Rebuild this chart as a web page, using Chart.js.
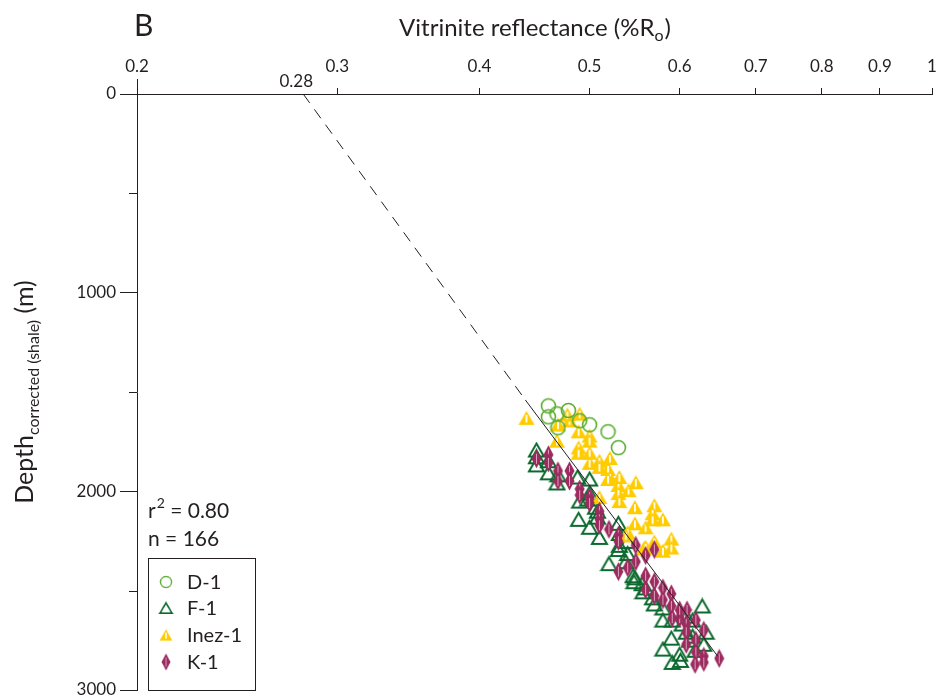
<!DOCTYPE html>
<html>
<head>
<meta charset="utf-8">
<script src="https://cdn.jsdelivr.net/npm/chart.js@4.4.1/dist/chart.umd.min.js"></script>
<style>
  html, body { margin: 0; padding: 0; background: #fff; }
  #wrap { width: 939px; height: 698px; }
</style>
</head>
<body>
<div id="wrap"><canvas id="roChart" width="939" height="698"></canvas></div>
<script>
// Axis ticks
const xTicks = [0.2, 0.3, 0.4, 0.5, 0.6, 0.7, 0.8, 0.9, 1];
const yTicks = [0, 1000, 2000, 3000];
const yMinorTicks = [500, 1500, 2500];

// D-1 (circles)
const d1Ro    = [0.46, 0.46, 0.468, 0.479, 0.49, 0.50, 0.469, 0.519, 0.53];
const d1Depth = [1570, 1625, 1610, 1593, 1645, 1665, 1680, 1700, 1780];

// F-1 (open triangles)
const f1Ro = [0.449, 0.449, 0.449, 0.46, 0.46, 0.468, 0.469, 0.488, 0.50, 0.49,
  0.489, 0.50, 0.51, 0.508, 0.508, 0.53, 0.531, 0.53, 0.54, 0.54,
  0.538, 0.52, 0.546, 0.547, 0.556, 0.557, 0.568, 0.57, 0.58, 0.591,
  0.603, 0.608, 0.616, 0.628, 0.633, 0.63, 0.612, 0.59, 0.58, 0.60,
  0.591, 0.601, 0.619, 0.608, 0.50, 0.498, 0.506, 0.548, 0.56, 0.531,
  0.58, 0.616];
const f1Depth = [1792, 1826, 1867, 1846, 1907, 1958, 1917, 1928, 1938, 2049,
  2141, 2181, 2232, 2100, 2130, 2161, 2212, 2293, 2252, 2313,
  2354, 2364, 2425, 2455, 2465, 2506, 2536, 2567, 2587, 2648,
  2668, 2709, 2648, 2577, 2709, 2770, 2749, 2739, 2794, 2820,
  2861, 2851, 2800, 2628, 2009, 2039, 2080, 2435, 2486, 2272,
  2648, 2729];

// Inez-1 (yellow triangles)
const inezRo = [0.44, 0.469, 0.48, 0.49, 0.489, 0.50, 0.468, 0.489, 0.489, 0.50,
  0.50, 0.51, 0.521, 0.519, 0.521, 0.53, 0.53, 0.531, 0.541, 0.549,
  0.51, 0.548, 0.57, 0.568, 0.58, 0.548, 0.56, 0.54, 0.57, 0.59,
  0.59, 0.58, 0.558, 0.51, 0.519, 0.478, 0.50, 0.568, 0.538, 0.531,
  0.56];
const inezDepth = [1630, 1664, 1643, 1609, 1698, 1719, 1745, 1779, 1806, 1806,
  1857, 1846, 1832, 1887, 1928, 1968, 2009, 2049, 1994, 1954,
  2029, 2080, 2070, 2110, 2141, 2161, 2181, 2206, 2252, 2238,
  2283, 2299, 2287, 1877, 1938, 1613, 1745, 2141, 2222, 1928,
  2279];

// K-1 (diamonds)
const k1Ro = [0.449, 0.46, 0.46, 0.469, 0.469, 0.48, 0.48, 0.49, 0.49, 0.50,
  0.50, 0.51, 0.51, 0.51, 0.52, 0.53, 0.53, 0.549, 0.549, 0.57,
  0.56, 0.54, 0.53, 0.56, 0.57, 0.56, 0.58, 0.57, 0.59, 0.58,
  0.59, 0.60, 0.609, 0.608, 0.62, 0.608, 0.63, 0.62, 0.608, 0.62,
  0.63, 0.619, 0.63, 0.65, 0.591, 0.60];
const k1Depth = [1836, 1816, 1857, 1897, 1948, 1897, 1948, 1988, 2019, 2029,
  2059, 2100, 2141, 2171, 2191, 2222, 2252, 2272, 2354, 2293,
  2323, 2384, 2404, 2425, 2455, 2496, 2486, 2526, 2516, 2546,
  2577, 2638, 2597, 2668, 2648, 2709, 2699, 2749, 2770, 2810,
  2830, 2871, 2861, 2841, 2638, 2597];

// Regression trend: dashed extrapolation to surface, solid through data
const trendDashRo = [0.28, 0.439];
const trendDashDepth = [0, 1540];
const trendSolidRo = [0.439, 0.648];
const trendSolidDepth = [1540, 2830];
const surfaceRo = 0.28;

const FONT = 'Lato, "Open Sans", sans-serif';
const INK = '#231f20';

function zip(xs, ys) {
    return xs.map((x, i) => ({ x: x, y: ys[i] }));
}

/**
 * Marker images
 */
function makeIcon(w, h, draw) {
    const c = document.createElement('canvas');
    c.width = w;
    c.height = h;
    draw(c.getContext('2d'), w, h);
    return c;
}

const inezIcon = makeIcon(18, 16, function(g, w, h) {
    g.beginPath();
    g.moveTo(w / 2, 1);
    g.lineTo(w - 1, h - 1);
    g.lineTo(1, h - 1);
    g.closePath();
    g.fillStyle = '#ffcc00';
    g.fill();
    g.strokeStyle = '#fff';
    g.lineWidth = 1.8;
    g.beginPath();
    g.moveTo(w / 2, 5);
    g.lineTo(w / 2, h - 3.5);
    g.stroke();
});

const k1Icon = makeIcon(11, 20, function(g, w, h) {
    g.beginPath();
    g.moveTo(w / 2, 0.5);
    g.lineTo(w - 0.5, h / 2);
    g.lineTo(w / 2, h - 0.5);
    g.lineTo(0.5, h / 2);
    g.closePath();
    g.fillStyle = '#9c2b5f';
    g.fill();
    g.strokeStyle = '#d9a3bd';
    g.lineWidth = 1;
    g.beginPath();
    g.moveTo(w / 2, 5);
    g.lineTo(w / 2, h - 5);
    g.stroke();
});

const f1Icon = makeIcon(19, 17, function(g, w, h) {
    g.beginPath();
    g.moveTo(w / 2, 2);
    g.lineTo(w - 2, h - 2);
    g.lineTo(2, h - 2);
    g.closePath();
    g.strokeStyle = '#0b6a2e';
    g.lineWidth = 2;
    g.stroke();
});

const d1Icon = makeIcon(17, 17, function(g, w, h) {
    g.beginPath();
    g.arc(w / 2, h / 2, 7, 0, Math.PI * 2);
    g.strokeStyle = '#5aad2f';
    g.lineWidth = 1.6;
    g.stroke();
});

/**
 * Texts, legend box and extra tick marks
 */
const decorPlugin = {
    id: 'decor',
    afterDraw(chart) {
        const g = chart.ctx;
        const xs = chart.scales.x;
        const ys = chart.scales.y;
        const area = chart.chartArea;
        g.save();
        g.strokeStyle = INK;
        g.fillStyle = INK;
        g.lineWidth = 1;

        // minor depth ticks
        yMinorTicks.forEach(v => {
            const py = Math.round(ys.getPixelForValue(v)) + 0.5;
            g.beginPath();
            g.moveTo(area.left - 8, py);
            g.lineTo(area.left, py);
            g.stroke();
        });

        // y axis stub above the top axis
        g.beginPath();
        g.moveTo(area.left + 0.5, area.top - 15);
        g.lineTo(area.left + 0.5, area.top);
        g.stroke();

        // panel letter
        g.textBaseline = 'alphabetic';
        g.textAlign = 'left';
        g.font = '30px ' + FONT;
        g.fillText('B', 134, 36);

        // axis title with subscript
        const tMain = 'Vitrinite reflectance (%R';
        g.font = '24px ' + FONT;
        const w1 = g.measureText(tMain).width;
        g.font = '16px ' + FONT;
        const w2 = g.measureText('o').width;
        g.font = '24px ' + FONT;
        const w3 = g.measureText(')').width;
        let tx = (area.left + area.right) / 2 - (w1 + w2 + w3) / 2;
        g.fillText(tMain, tx, 36);
        g.font = '16px ' + FONT;
        g.fillText('o', tx + w1, 41);
        g.font = '24px ' + FONT;
        g.fillText(')', tx + w1 + w2 + 1, 36);

        // surface intercept label
        g.font = '17px ' + FONT;
        g.textAlign = 'center';
        g.fillText(String(surfaceRo), xs.getPixelForValue(surfaceRo) - 7, 87);

        // y title (rotated) with subscript
        g.save();
        g.translate(33, (area.top + area.bottom) / 2);
        g.rotate(-Math.PI / 2);
        g.textAlign = 'left';
        const p1 = 'Depth', p2 = 'corrected (shale)', p3 = ' (m)';
        g.font = '25px ' + FONT;
        const a1 = g.measureText(p1).width;
        const a3 = g.measureText(p3).width;
        g.font = '16px ' + FONT;
        const a2 = g.measureText(p2).width;
        let sx = -(a1 + a2 + a3) / 2;
        g.font = '25px ' + FONT;
        g.fillText(p1, sx, 0);
        g.font = '16px ' + FONT;
        g.fillText(p2, sx + a1, 6);
        g.font = '25px ' + FONT;
        g.fillText(p3, sx + a1 + a2, 0);
        g.restore();

        // statistics
        g.textAlign = 'left';
        g.font = '21px ' + FONT;
        g.fillText('r', 148, 518);
        const rw = g.measureText('r').width;
        g.font = '14px ' + FONT;
        g.fillText('2', 148 + rw + 1, 508);
        const sw = g.measureText('2').width;
        g.font = '21px ' + FONT;
        g.fillText(' = 0.80', 148 + rw + sw + 1, 518);
        g.fillText('n = 166', 148, 546);

        // legend
        g.lineWidth = 1;
        g.strokeRect(148.5, 558.5, 107, 132);
        const icons = [d1Icon, f1Icon, inezIcon, k1Icon];
        const rows = [582, 608, 635, 662];
        g.textBaseline = 'middle';
        chart.data.datasets.filter(d => d.legendIndex !== undefined)
            .sort((a, b) => a.legendIndex - b.legendIndex)
            .forEach((d, i) => {
                const ic = icons[i];
                const scale = i === 3 ? 0.9 : 0.8;
                const iw = ic.width * scale, ih = ic.height * scale;
                g.drawImage(ic, 166 - iw / 2, rows[i] - ih / 2, iw, ih);
                g.font = '20px ' + FONT;
                g.fillText(d.label, 187, rows[i] + 1);
            });
        g.restore();
    }
};

function initChart() {
    const ctx = document.getElementById('roChart');

    new Chart(ctx, {
        type: 'scatter',
        data: {
            datasets: [
                {
                    label: 'trend-dash',
                    data: zip(trendDashRo, trendDashDepth),
                    showLine: true,
                    borderColor: INK,
                    borderWidth: 1,
                    borderDash: [11, 8],
                    pointRadius: 0,
                    order: 0
                },
                {
                    label: 'trend',
                    data: zip(trendSolidRo, trendSolidDepth),
                    showLine: true,
                    borderColor: INK,
                    borderWidth: 1,
                    pointRadius: 0,
                    order: 0
                },
                {
                    label: 'D-1',
                    legendIndex: 0,
                    data: zip(d1Ro, d1Depth),
                    pointStyle: d1Icon,
                    order: 1
                },
                {
                    label: 'K-1',
                    legendIndex: 3,
                    data: zip(k1Ro, k1Depth),
                    pointStyle: k1Icon,
                    order: 2
                },
                {
                    label: 'Inez-1',
                    legendIndex: 2,
                    data: zip(inezRo, inezDepth),
                    pointStyle: inezIcon,
                    order: 3
                },
                {
                    label: 'F-1',
                    legendIndex: 1,
                    data: zip(f1Ro, f1Depth),
                    pointStyle: f1Icon,
                    order: 4
                }
            ]
        },
        options: {
            responsive: false,
            animation: false,
            layout: {
                padding: { top: 0, left: 0, right: 7, bottom: 8 }
            },
            plugins: {
                legend: { display: false },
                tooltip: { enabled: false }
            },
            scales: {
                x: {
                    type: 'logarithmic',
                    position: 'top',
                    min: 0.2,
                    max: 1,
                    afterBuildTicks: function(scale) {
                        scale.ticks = xTicks.map(v => ({ value: v }));
                    },
                    afterFit: function(scale) {
                        scale.height = 94;
                        scale.paddingLeft = 0;
                        scale.paddingRight = 0;
                    },
                    ticks: {
                        autoSkip: false,
                        maxRotation: 0,
                        padding: 11,
                        color: INK,
                        font: { size: 17, family: FONT },
                        callback: function(value) {
                            return String(value);
                        }
                    },
                    grid: {
                        drawOnChartArea: false,
                        tickLength: 6,
                        color: INK
                    },
                    border: { color: INK, width: 1 }
                },
                y: {
                    type: 'linear',
                    reverse: true,
                    min: 0,
                    max: 3000,
                    afterBuildTicks: function(scale) {
                        scale.ticks = yTicks.map(v => ({ value: v }));
                    },
                    afterFit: function(scale) {
                        scale.width = 137;
                        scale.paddingTop = 0;
                        scale.paddingBottom = 0;
                    },
                    ticks: {
                        padding: 4,
                        color: INK,
                        font: { size: 17, family: FONT },
                        callback: function(value) {
                            return String(value);
                        }
                    },
                    grid: {
                        drawOnChartArea: false,
                        tickLength: 17,
                        color: INK
                    },
                    border: { color: INK, width: 1 }
                }
            }
        },
        plugins: [decorPlugin]
    });
}

document.addEventListener('DOMContentLoaded', initChart);
</script>
</body>
</html>
